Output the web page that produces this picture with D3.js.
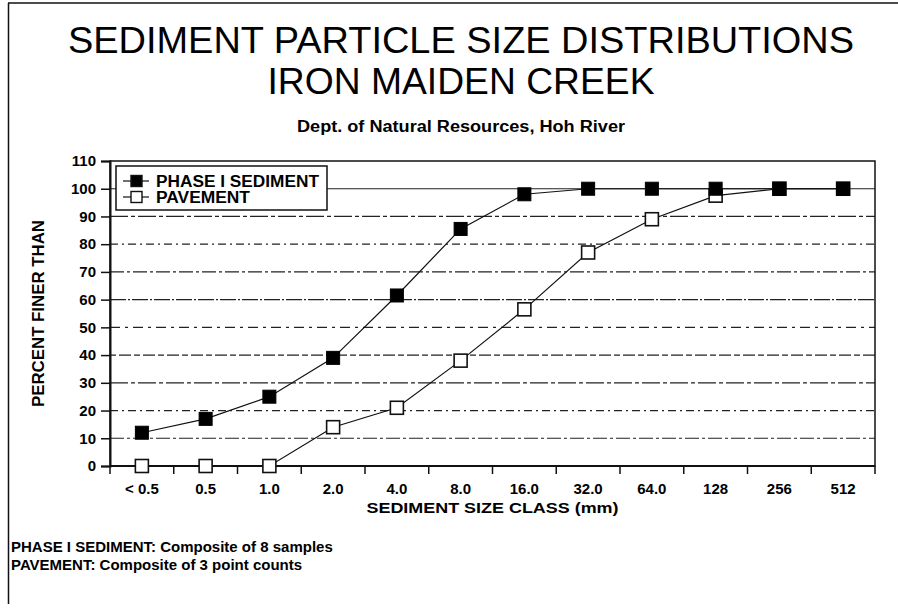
<!DOCTYPE html>
<html>
<head>
<meta charset="utf-8">
<script src="https://cdn.jsdelivr.net/npm/d3@7/dist/d3.min.js"></script>
<style>
  html, body { margin: 0; padding: 0; background: #fff; }
  svg { display: block; font-family: "Liberation Sans", Arial, Helvetica, sans-serif; }
</style>
</head>
<body>
<svg id="chart" width="898" height="609"></svg>
<script>
// ---- data ----
const categories = ["< 0.5", "0.5", "1.0", "2.0", "4.0", "8.0", "16.0", "32.0", "64.0", "128", "256", "512"];
const phaseISediment = [12, 17, 25, 39, 61.5, 85.5, 98, 100, 100, 100, 100, 100];
const pavement = [0, 0, 0, 14, 21, 38, 56.5, 77, 89, 97.5, 100, 100];
const yTicks = [0, 10, 20, 30, 40, 50, 60, 70, 80, 90, 100, 110];
const seriesNames = ["PHASE I SEDIMENT", "PAVEMENT"];
const titleLines = ["SEDIMENT PARTICLE SIZE DISTRIBUTIONS", "IRON MAIDEN CREEK"];
const subtitle = "Dept. of Natural Resources, Hoh River";
const xTitle = "SEDIMENT SIZE CLASS (mm)";
const yTitle = "PERCENT FINER THAN";
const footnotes = ["PHASE I SEDIMENT: Composite of 8 samples", "PAVEMENT: Composite of 3 point counts"];

// ---- layout ----
const svg = d3.select("#chart");
const m = { left: 110, right: 875, top: 161, bottom: 466 };

const x = d3.scaleBand().domain(categories).range([m.left, m.right]).paddingInner(0).paddingOuter(0);
const y = d3.scaleLinear().domain([0, 110]).range([m.bottom, m.top]);
const cx = c => x(c) + x.bandwidth() / 2;

// page border (top + left)
svg.append("line").attr("x1", 8).attr("x2", 898).attr("y1", 3).attr("y2", 3).attr("stroke", "#111").attr("stroke-width", 1.5);
svg.append("line").attr("x1", 8.5).attr("x2", 8.5).attr("y1", 3).attr("y2", 604).attr("stroke", "#111").attr("stroke-width", 1.5);

// titles
const tcx = 461;
svg.append("text").attr("x", tcx).attr("y", 53).attr("text-anchor", "middle")
  .attr("font-size", 36).attr("textLength", 786).attr("lengthAdjust", "spacingAndGlyphs")
  .attr("fill", "#000").text(titleLines[0]);
svg.append("text").attr("x", tcx).attr("y", 94).attr("text-anchor", "middle")
  .attr("font-size", 36).attr("textLength", 387).attr("lengthAdjust", "spacingAndGlyphs")
  .attr("fill", "#000").text(titleLines[1]);
svg.append("text").attr("x", tcx).attr("y", 132).attr("text-anchor", "middle")
  .attr("font-size", 16).attr("font-weight", "bold").attr("textLength", 328).attr("lengthAdjust", "spacingAndGlyphs")
  .text(subtitle);

// gridlines
const grid = svg.append("g");
const dashes = ["14,3,3,3", "8,4,2,4", "18,3,4,3", "6,3,12,3", "10,5,3,5", "16,2,2,2"];
yTicks.filter(v => v > 0 && v < 110).forEach((v, i) => {
  grid.append("line")
    .attr("x1", m.left).attr("x2", m.right)
    .attr("y1", y(v)).attr("y2", y(v))
    .attr("stroke", "#222").attr("stroke-width", 1.2)
    .attr("stroke-dasharray", v === 100 ? null : dashes[i % dashes.length]);
});

// frame
svg.append("rect").attr("x", m.left).attr("y", m.top).attr("width", m.right - m.left).attr("height", m.bottom - m.top)
  .attr("fill", "none").attr("stroke", "#111").attr("stroke-width", 1.5);

// y axis
const yAxis = d3.axisLeft(y).tickValues(yTicks).tickSize(9).tickPadding(5);
const gy = svg.append("g").attr("transform", `translate(${m.left},0)`).call(yAxis);
gy.select(".domain").attr("stroke", "#111").attr("stroke-width", 2);
gy.selectAll(".tick line").attr("stroke", "#111").attr("stroke-width", 1.5);
gy.selectAll(".tick text").attr("font-size", 15).attr("font-weight", "bold").attr("fill", "#000")
  .attr("font-family", "'Liberation Sans', Arial, sans-serif");

// x axis: ticks on band boundaries, labels at centres
const boundaries = categories.map(c => x(c)).concat([m.right]);
const gx = svg.append("g");
gx.append("line").attr("x1", m.left).attr("x2", m.right).attr("y1", m.bottom).attr("y2", m.bottom)
  .attr("stroke", "#111").attr("stroke-width", 2);
gx.selectAll("line.tk").data(boundaries).join("line").attr("class", "tk")
  .attr("x1", d => d).attr("x2", d => d).attr("y1", m.bottom).attr("y2", m.bottom + 8)
  .attr("stroke", "#111").attr("stroke-width", 1.5);
gx.selectAll("text").data(categories).join("text")
  .attr("x", d => cx(d)).attr("y", 494).attr("text-anchor", "middle")
  .attr("font-size", 15).attr("font-weight", "bold").text(d => d);

// axis titles
svg.append("text").attr("x", (m.left + m.right) / 2).attr("y", 513).attr("text-anchor", "middle")
  .attr("font-size", 15).attr("font-weight", "bold").attr("textLength", 252).attr("lengthAdjust", "spacingAndGlyphs").text(xTitle);
svg.append("text").attr("transform", `translate(44,${(m.top + m.bottom) / 2}) rotate(-90)`)
  .attr("text-anchor", "middle").attr("font-size", 16).attr("font-weight", "bold")
  .attr("textLength", 187).attr("lengthAdjust", "spacingAndGlyphs").text(yTitle);

// series
const line = d3.line().x((d, i) => cx(categories[i])).y(d => y(d));
const ms = 13;

svg.append("path").datum(pavement).attr("d", line).attr("fill", "none").attr("stroke", "#111").attr("stroke-width", 1.2);
svg.append("g").selectAll("rect").data(pavement).join("rect")
  .attr("x", (d, i) => cx(categories[i]) - ms / 2).attr("y", d => y(d) - ms / 2)
  .attr("width", ms).attr("height", ms).attr("fill", "#fff").attr("stroke", "#111").attr("stroke-width", 1.6);

svg.append("path").datum(phaseISediment).attr("d", line).attr("fill", "none").attr("stroke", "#111").attr("stroke-width", 1.2);
svg.append("g").selectAll("rect").data(phaseISediment).join("rect")
  .attr("x", (d, i) => cx(categories[i]) - ms / 2).attr("y", d => y(d) - ms / 2)
  .attr("width", ms).attr("height", ms).attr("fill", "#000").attr("stroke", "#000").attr("stroke-width", 1);

// legend
const lg = svg.append("g");
lg.append("rect").attr("x", 116).attr("y", 166).attr("width", 211).attr("height", 44)
  .attr("fill", "#fff").attr("stroke", "#111").attr("stroke-width", 1.5);
seriesNames.forEach((name, i) => {
  const ly = 181 + i * 16;
  lg.append("line").attr("x1", 123).attr("x2", 149).attr("y1", ly).attr("y2", ly).attr("stroke", "#111").attr("stroke-width", 1.2);
  lg.append("rect").attr("x", 131).attr("y", ly - 5.5).attr("width", 11).attr("height", 11)
    .attr("fill", i === 0 ? "#000" : "#fff").attr("stroke", "#111").attr("stroke-width", 1.4);
  const t = lg.append("text").attr("x", 156).attr("y", ly + 5.5).attr("font-size", 16).attr("font-weight", "bold").text(name);
  if (i === 0) t.attr("textLength", 163).attr("lengthAdjust", "spacingAndGlyphs");
  else t.attr("textLength", 94).attr("lengthAdjust", "spacingAndGlyphs");
});

// footnotes
footnotes.forEach((t, i) => {
  svg.append("text").attr("x", 11).attr("y", 552 + i * 18).attr("font-size", 15).attr("font-weight", "bold").text(t);
});
</script>
</body>
</html>
